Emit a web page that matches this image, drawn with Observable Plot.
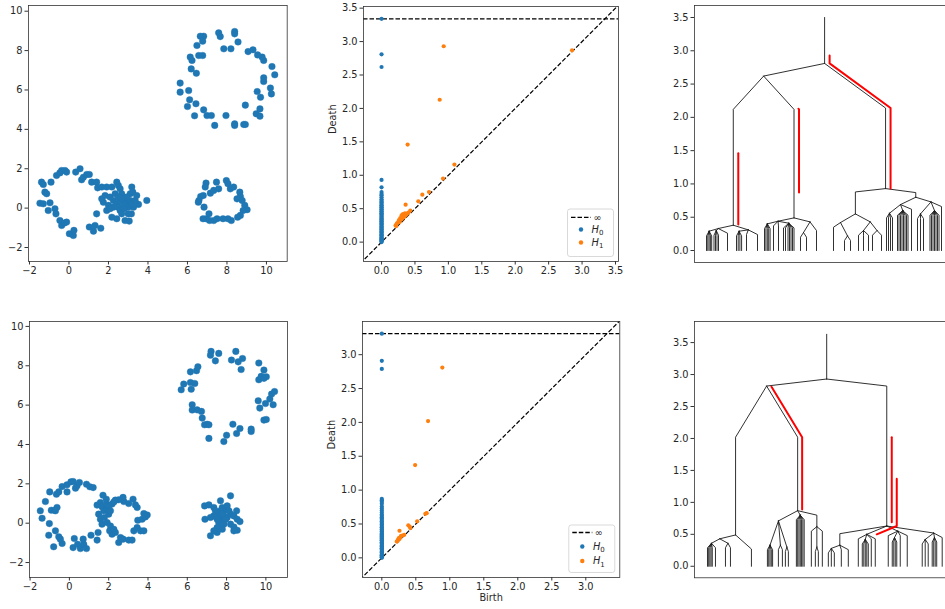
<!DOCTYPE html>
<html><head><meta charset="utf-8">
<script src="https://cdn.jsdelivr.net/npm/d3@7"></script>
<script src="https://cdn.jsdelivr.net/npm/@observablehq/plot@0.6"></script>
<style>
html,body{margin:0;padding:0;background:#fff;}
#fig{position:relative;width:945px;height:609px;overflow:hidden;background:#fff;font-family:"DejaVu Sans",sans-serif;}
</style></head><body><div id="fig"></div>
<script>
// ---------------- DATA ----------------
const blue = "#1f77b4", orange = "#ff7f0e";

// Row 1 point cloud
const cloud1Ring = [[5.63,6.35],[5.63,5.89],[6.06,5.97],[6.11,5.5],[6.0,5.16],[6.43,5.3],[6.36,4.69],[6.82,4.99],[6.99,4.7],[7.21,4.7],[7.38,4.2],[7.95,4.7],[8.39,4.2],[8.39,4.28],[8.85,4.25],[8.93,4.25],[8.93,5.23],[9.48,4.79],[9.67,4.67],[9.67,5.04],[9.53,5.92],[9.7,5.63],[10.2,6.1],[10.25,5.8],[9.86,6.43],[9.86,6.62],[10.42,6.77],[10.28,7.19],[9.86,7.5],[9.78,7.67],[9.55,7.78],[9.32,8.04],[9.07,7.95],[8.56,8.44],[8.39,8.97],[8.39,8.85],[8.2,8.09],[7.84,8.09],[7.66,8.71],[7.58,8.9],[6.82,8.73],[6.65,8.73],[6.77,8.48],[6.48,8.26],[6.57,7.75],[6.77,7.75],[6.14,7.67],[6.23,7.5],[6.19,7.07],[6.45,6.85]];
const cloud1Small = [[6.94,1.27],[6.9,1.07],[7.16,0.76],[7.33,0.9],[7.47,1.32],[7.58,0.98],[7.97,1.4],[8.05,1.24],[8.17,0.98],[8.34,1.07],[8.65,0.81],[8.68,0.59],[8.51,0.47],[8.77,0.39],[8.9,0.14],[9.02,-0.08],[8.82,-0.12],[8.68,-0.37],[8.54,-0.46],[8.22,-0.63],[8.05,-0.54],[7.8,-0.54],[7.5,-0.54],[7.33,-0.63],[7.12,-0.63],[6.95,-0.54],[6.79,-0.54],[7.09,-0.29],[6.84,0.05],[6.58,0.39],[6.55,0.3],[6.67,0.59],[6.8,0.64]];
const cloud1Left = [[-1.47,0.25],[-1.3,0.22],[-1.39,1.32],[-1.3,1.2],[-1.22,0.81],[-1.13,0.73],[-1.05,-0.12],[-0.96,0.27],[-0.91,1.32],[-0.71,-0.03],[-0.66,-0.29],[-0.63,1.66],[-0.46,1.79],[-0.37,1.91],[-0.46,-0.63],[-0.37,-0.88],[-0.24,-0.76],[-0.12,-0.71],[-0.2,1.91],[-0.12,1.83],[0.02,-1.3],[0.22,-1.39],[0.25,-1.13],[0.34,1.83],[0.56,2.0],[0.64,1.44],[0.73,1.57],[0.9,1.71],[1.03,1.71],[1.15,1.32],[1.4,1.32],[1.45,1.03],[1.66,1.07],[1.03,-0.96],[1.24,-1.17],[1.32,-0.88],[1.61,-1.02],[1.4,-0.29],[1.74,0.3],[1.66,0.47],[1.83,0.64],[1.91,1.07],[2.17,1.07],[2.42,1.32],[2.5,1.15],[2.59,0.98],[2.67,0.73],[2.76,0.56],[2.84,0.39],[2.93,0.22],[3.0,0.05],[3.1,0.73],[3.18,1.07],[3.23,0.81],[3.43,0.64],[3.52,0.19],[3.94,0.39],[2.08,0.56],[2.25,0.39],[2.42,0.22],[2.5,0.05],[2.59,-0.12],[2.25,0.05],[2.0,0.14],[1.91,-0.12],[2.17,-0.46],[2.42,-0.54],[2.67,-0.29],[2.84,-0.63],[3.05,-0.66],[3.16,-0.29],[3.27,0.05],[3.1,0.39],[2.93,0.56],[2.76,0.22],[2.59,0.39],[2.34,0.73],[2.79,-0.03],[3.0,-0.29],[3.18,0.22],[3.35,0.39],[2.08,-0.03],[2.67,0.47],[2.5,0.56]];

// Row 2 point cloud
const cloud2Ring = [[5.69,6.78],[5.82,7.07],[6.16,7.15],[6.2,6.81],[6.38,7.1],[6.16,7.69],[6.47,7.75],[6.54,7.95],[6.25,6.02],[6.25,5.75],[6.5,5.76],[6.72,5.68],[6.76,5.34],[6.88,5.0],[7.01,5.03],[7.1,5.0],[7.1,4.31],[7.86,4.15],[8.0,4.47],[8.32,5.03],[8.51,4.56],[8.68,4.81],[9.25,4.78],[9.25,4.66],[9.9,5.24],[10.02,5.27],[9.61,6.22],[9.69,5.85],[9.98,6.08],[10.37,6.02],[10.2,6.31],[10.29,6.56],[10.44,6.69],[9.64,7.29],[9.76,7.46],[9.9,7.36],[10.02,7.44],[9.9,7.78],[9.64,8.14],[8.74,7.81],[8.59,8.2],[8.81,8.37],[8.25,8.29],[8.47,8.73],[7.6,8.63],[7.43,8.25],[7.21,8.73],[7.18,8.54]];
const cloud2Star = [[6.88,0.88],[7.1,0.93],[7.35,0.8],[7.69,1.14],[7.78,0.8],[8.2,1.39],[8.03,0.88],[8.51,0.63],[7.86,0.63],[7.6,0.54],[7.52,0.42],[7.35,0.37],[7.18,0.29],[6.9,0.2],[7.69,0.29],[7.86,0.37],[8.03,0.29],[8.2,0.46],[8.37,0.37],[8.54,0.2],[7.78,0.12],[7.6,0.03],[7.86,-0.05],[7.69,-0.14],[7.52,-0.22],[7.78,-0.31],[8.2,-0.05],[8.37,-0.19],[8.54,-0.36],[8.68,0.08],[7.52,-0.47],[7.35,-0.39],[7.18,-0.64],[8.37,-0.39],[7.95,0.2],[7.69,0.63],[7.43,0.63],[8.12,0.63],[7.52,0.2],[7.78,0.46]];
const cloud2Left = [[-1.48,0.63],[-1.39,0.25],[-1.02,-0.02],[-1.05,-0.61],[-1.22,1.1],[-1.0,1.59],[-0.8,-1.2],[-0.71,-0.39],[-0.54,-0.69],[-0.37,-1.03],[-0.46,-0.81],[-0.92,0.66],[-0.75,0.66],[-0.63,0.8],[-0.71,0.63],[-0.66,1.47],[-0.54,1.59],[-0.37,1.86],[-0.12,1.95],[-0.12,1.59],[0.08,2.1],[0.19,2.12],[0.31,1.78],[0.39,1.9],[0.51,2.07],[0.87,1.98],[1.04,1.85],[1.21,1.81],[0.25,-0.78],[0.19,-1.24],[0.42,-1.07],[0.56,-1.29],[0.7,-0.81],[0.73,-1.07],[0.87,-1.29],[1.1,-0.61],[1.41,-0.86],[1.46,-0.47],[1.41,0.92],[1.71,1.42],[1.58,1.05],[1.66,0.83],[1.49,0.46],[1.58,0.2],[1.66,-0.05],[1.75,0.63],[1.88,0.97],[1.92,0.71],[2.0,0.46],[1.78,0.29],[1.92,0.03],[2.05,-0.39],[2.17,-0.56],[2.09,-0.14],[2.26,-0.31],[2.34,-0.47],[2.51,-0.98],[2.6,-0.73],[2.73,-0.81],[3.02,-0.86],[3.19,-0.86],[3.28,-0.39],[3.45,-0.22],[3.62,-0.39],[3.79,-0.39],[3.48,0.15],[3.7,0.2],[3.87,0.32],[3.96,0.42],[3.79,0.49],[3.45,0.8],[3.36,0.93],[3.24,1.22],[3.02,1.0],[2.77,1.1],[2.73,1.31],[2.51,1.19],[2.34,1.17],[2.17,0.97],[2.26,1.08],[2.0,0.88],[2.09,0.63],[1.88,1.22]];

// Persistence diagrams
const inf1 = 3.34, inf2 = 3.31;
const h0Death1 = [3.34,2.81,2.62,0.93,0.82,0.75,0.72,0.70,0.67,0.64,0.62,0.60,0.59,0.57,0.55,0.54,0.52,0.51,0.49,0.48,0.46,0.45,0.43,0.42,0.41,0.39,0.38,0.36,0.35,0.34,0.32,0.31,0.30,0.28,0.27,0.26,0.24,0.23,0.22,0.20,0.19,0.18,0.16,0.15,0.14,0.12,0.11,0.10,0.09,0.07,0.06,0.05,0.04,0.03,0.02,0.01,0.0];
const h1Birth1 = [0.93,2.85,0.87,0.39,1.09,0.92,0.71,0.61,0.55,0.36,0.43,0.40,0.38,0.36,0.35,0.33,0.32,0.30,0.30,0.28,0.27,0.26,0.25,0.23,0.22,0.21,0.34];
const h1Death1 = [2.93,2.87,2.13,1.46,1.16,0.95,0.75,0.71,0.61,0.56,0.47,0.44,0.42,0.40,0.43,0.37,0.42,0.40,0.34,0.36,0.30,0.33,0.30,0.28,0.24,0.25,0.38];
const h0Death2 = [3.31,2.91,2.79,0.87,0.85,0.83,0.80,0.76,0.73,0.70,0.67,0.64,0.62,0.60,0.58,0.56,0.54,0.52,0.50,0.49,0.47,0.45,0.44,0.42,0.41,0.39,0.38,0.36,0.35,0.33,0.32,0.30,0.29,0.27,0.26,0.25,0.23,0.22,0.21,0.19,0.18,0.17,0.15,0.14,0.13,0.12,0.10,0.09,0.08,0.07,0.05,0.04,0.03,0.02,0.01,0.0];
const h1Birth2 = [0.89,0.68,0.49,0.66,0.64,0.52,0.39,0.41,0.42,0.26,0.22,0.23,0.24,0.25,0.27,0.28,0.30,0.33,0.26];
const h1Death2 = [2.81,2.02,1.37,0.66,0.65,0.54,0.48,0.46,0.44,0.40,0.24,0.25,0.27,0.29,0.30,0.32,0.33,0.34,0.28];

// Merge trees (leaf positions, merge heights h, bend heights k)
const tree1 = {h:2.81, top:3.5, c:[
  {h:2.62, k:2.62, c:[
    {id:"AL", h:0.38, k:2.12, c:[
      {h:0.33, c:[{h:0.29, c:[1,2.3,3.6,4.9,6.2]}, {h:0.30, c:[8.5,10,11.5,13]}, 22]},
      {h:0.31, c:[{h:0.29, c:[31,32.7,34.4,36.1]}, 41, 52]}
    ]},
    {id:"AR", h:0.49, k:2.12, c:[
      {h:0.44, c:[{h:0.40, c:[59,60.4,61.8,63.2,64.6]}, 68, 73, {h:0.41, c:[78,80,82.5,84,85.5,87,88.5]}]},
      {h:0.43, c:[{h:0.27, c:[95,101]}, {x:111, k:0.3}]}
    ]}
  ]},
  {id:"B", h:0.93, k:2.14, c:[
    {h:0.55, k:0.88, c:[
      {h:0.42, c:[128, {h:0.22, c:[139,145]}]},
      {h:0.43, c:[{h:0.30, c:[153,158,163]}, {h:0.30, c:[167,176]}]}
    ]},
    {h:0.80, k:0.87, c:[
      {h:0.69, c:[{h:0.56, c:[181,183,185,187]}, {h:0.60, c:[192,193.5,195,196.5,198,199.5,201,202.5]}, 206]},
      {h:0.73, c:[{h:0.55, c:[212,215,218]}, {h:0.60, c:[224.5,226,227.5,229,230.5,232,233.5]}, 236]}
    ]}
  ]}
]};
const tree2 = {h:2.93, top:3.63, c:[
  {h:2.82, k:2.82, c:[
    {h:0.49, k:2.02, c:[
      {h:0.43, c:[{h:0.36, c:[2,3.2,4.4,5.6,6.8,10]}, {h:0.36, c:[20,25]}]},
      {x:46, k:0.27}
    ]},
    {id:"AR", h:0.87, k:2.02, c:[
      {h:0.71, c:[{h:0.33, c:[62,63.3,64.6,65.9,67.2]}, {h:0.33, c:[73,77]}, {h:0.30, c:[80,83]}]},
      {h:0.80, c:[91,92.3,93.6,94.9,96.2,97.5,98.8]},
      {h:0.62, k:0.80, c:[106, {h:0.30, c:[110,113]}, 117]}
    ]}
  ]},
  {id:"B", h:0.63, k:2.82, c:[
    {h:0.33, k:0.51, c:[{h:0.28, c:[123,126,129]}, 136, 143]},
    {id:"BLR", h:0.50, c:[153, {h:0.42, c:[157,158.5,160,161.5,163]}, 166, 170]},
    {h:0.55, c:[183, {h:0.45, c:[187,188.5,190,191.5]}, 195, 202]},
    {h:0.52, c:[{h:0.42, c:[217,220,223]}, {h:0.45, c:[227,228.5,230,231.5]}, 237]}
  ]}
]};
// H1 features drawn beside the tree: start node, birth, death, side offset
const red1Node = ["AL","AR","B"], red1Birth = [0.39,0.87,0.93], red1Death = [1.46,2.13,2.93], red1Off = [5,5,5];
const red2Node = ["BLR","B","AR"], red2Birth = [0.49,0.69,0.89], red2Death = [1.37,2.02,2.81], red2Off = [10,5,4.5];

const ticksA = [-2,0,2,4,6,8,10];
const ticksHalf = [0,0.5,1,1.5,2,2.5,3,3.5];
const ticksHalf3 = [0,0.5,1,1.5,2,2.5,3];

// ---------------- HELPERS ----------------
const fig = document.getElementById("fig");
const FONT = '"DejaVu Sans", sans-serif';
const M = {l:48, t:8, r:12, b:36};
const INK = "#262626";
const fmtMinus = d => (d < 0 ? "\u2212" : "") + Math.abs(d);
const fmt1 = d3.format(".1f");

function makePlot([L,T,R,B], opts) {
  const p = Plot.plot({
    width: R-L+M.l+M.r, height: B-T+M.t+M.b,
    marginLeft: M.l, marginTop: M.t, marginRight: M.r, marginBottom: M.b,
    style: {fontFamily: FONT, fontSize: "9.8px", color: INK, background: "transparent"},
    ...opts
  });
  p.style.position = "absolute";
  p.style.left = (L-M.l)+"px";
  p.style.top = (T-M.t)+"px";
  fig.appendChild(p);
}
const axX = (ticks, fmt) => Plot.axisX({ticks, tickFormat: fmt, tickSize: 3.5, tickPadding: 2.5, label: null, stroke: "#333"});
const axY = (ticks, fmt) => Plot.axisY({ticks, tickFormat: fmt, tickSize: 3.5, tickPadding: 2.5, label: null, stroke: "#333"});
const frame = () => Plot.frame({stroke: "#333", strokeWidth: 0.8});

const toPts = arrs => arrs.flat().map(([x,y]) => ({x,y}));

function scatterPanel(fr, pts, xd, yd) {
  makePlot(fr, {
    x: {domain: xd}, y: {domain: yd},
    marks: [
      Plot.dot(pts, {x:"x", y:"y", r:3.3, fill: blue, stroke: blue, strokeWidth: 0.4}),
      frame(), axX(ticksA, fmtMinus), axY(ticksA, fmtMinus)
    ]
  });
}

function legendMark(rows) {
  return (index, scales, values, dims) => {
    const R = dims.width - dims.marginRight, B = dims.height - dims.marginBottom;
    const w = 46, h = 47.5, x0 = R - 4.5 - w, y0 = B - 4.5 - h;
    const g = d3.create("svg:g").attr("font-family", FONT).attr("font-size", "9.8px").attr("fill", INK);
    g.append("rect").attr("x", x0).attr("y", y0).attr("width", w).attr("height", h).attr("rx", 2.5)
      .attr("fill", "white").attr("fill-opacity", 0.85).attr("stroke", "#cfcfcf").attr("stroke-width", 0.8);
    g.append("line").attr("x1", x0+3.5).attr("x2", x0+23.5).attr("y1", y0+rows[0]).attr("y2", y0+rows[0])
      .attr("stroke", "black").attr("stroke-width", 1.3).attr("stroke-dasharray", "4.5,2");
    g.append("text").attr("x", x0+30).attr("y", y0+rows[0]).attr("dy", "0.35em").text("\u221e");
    [[blue,"0"],[orange,"1"]].forEach(([c,s],i) => {
      const yy = y0 + rows[i+1];
      g.append("circle").attr("cx", x0+13.5).attr("cy", yy).attr("r", 2.2).attr("fill", c);
      const t = g.append("text").attr("x", x0+30).attr("y", yy).attr("dy", "0.35em");
      t.append("tspan").attr("font-style", "italic").text("H");
      t.append("tspan").attr("font-size", "7px").attr("dy", "2.5").text(s);
    });
    return g.node();
  };
}

function diagramPanel(fr, xd, yd, inf, h0, b1, d1, xt, yt, rows, birthLabel) {
  const lo = Math.min(xd[0], yd[0]) - 0.1, hi = Math.max(xd[1], yd[1]) + 0.1;
  const marks = [
    Plot.link([{a: lo, b: hi}], {x1:"a", y1:"a", x2:"b", y2:"b", stroke:"black", strokeWidth:1.2, strokeDasharray:"4.5,2", clip:true}),
    Plot.ruleY([inf], {stroke:"black", strokeWidth:1.2, strokeDasharray:"4.5,2"}),
    Plot.dot(h0, {x: () => 0, y: d => d, r: 2.1, fill: blue}),
    Plot.dot(b1.map((b,i) => ({b, d: d1[i]})), {x:"b", y:"d", r: 2.1, fill: orange}),
    frame(), axX(xt, fmt1), axY(yt, fmt1),
    Plot.text(["Death"], {frameAnchor:"left", dx:-31, rotate:-90, fontSize: 9.8, fill: INK}),
    legendMark(rows)
  ];
  if (birthLabel) marks.push(Plot.text(["Birth"], {frameAnchor:"bottom", dy:23.5, fontSize: 9.8, fill: INK}));
  makePlot(fr, {x: {domain: xd}, y: {domain: yd}, marks});
}

function layoutTree(root) {
  const edges = [], nodes = {};
  let eid = 0;
  function place(n) {
    if (typeof n === "number" || n.c === undefined) {
      return {x: typeof n === "number" ? n : n.x, h: 0, leaf: true, k: typeof n === "number" ? undefined : n.k};
    }
    const kids = n.c.map(place);
    const me = {x: (kids[0].x + kids[kids.length-1].x)/2, h: n.h, k: n.k, top: n.top, kids};
    kids.forEach(c => c.parent = me);
    if (n.id) nodes[n.id] = me;
    return me;
  }
  const r = place(root);
  (function draw(n) {
    if (!n.kids) return;
    for (const c of n.kids) {
      const knee = c.leaf ? (c.k ?? Math.max(0, n.h - 0.07)) : (c.k ?? c.h);
      c.knee = knee;
      const e = eid++;
      edges.push({e, x:c.x, h:c.h}, {e, x:c.x, h:knee}, {e, x:n.x, h:n.h});
      draw(c);
    }
  })(r);
  edges.push({e:eid, x:r.x, h:r.h}, {e:eid, x:r.x, h:r.top});
  return {edges, nodes};
}

function featurePath(tree, id, lo, hi, off, f) {
  let n = tree.nodes[id];
  const pts = [[n.x, n.h]];
  while (n.parent) { pts.push([n.x, n.knee], [n.parent.x, n.parent.h]); n = n.parent; }
  pts.push([n.x, n.top]);
  const at = (a,b,h) => { const t = (h-a[1])/(b[1]-a[1]); return [a[0]+t*(b[0]-a[0]), h]; };
  const out = [];
  for (let i = 0; i < pts.length-1; i++) {
    const a = pts[i], b = pts[i+1];
    if (b[1] < lo || a[1] > hi) continue;
    if (b[1] === a[1]) { if (a[0] !== b[0]) out.push(a, b); continue; }
    out.push(a[1] < lo ? at(a,b,lo) : a, b[1] > hi ? at(a,b,hi) : b);
  }
  return out.map(([x,h]) => ({f, x: x+off, h}));
}

function treePanel(fr, tree, yd, rn, rb, rd, ro) {
  const T = layoutTree(tree);
  const red = rn.flatMap((id,i) => featurePath(T, id, rb[i], rd[i], ro[i], i));
  makePlot(fr, {
    x: {domain: [-11, 247], axis: null}, y: {domain: yd},
    marks: [
      Plot.line(T.edges, {x:"x", y:"h", z:"e", stroke:"#1a1a1a", strokeWidth:0.9}),
      Plot.line(red, {x:"x", y:"h", z:"f", stroke:"#ff0000", strokeWidth:2}),
      frame(), axY(ticksHalf, fmt1)
    ]
  });
}

// ---------------- PANELS ----------------
scatterPanel([28.3,5,287,261], toPts([cloud1Ring, cloud1Small, cloud1Left]), [-2.05,11.05], [-2.71,10.29]);
diagramPanel([363,6,618,261], [-0.27,3.545], [-0.29,3.525], inf1, h0Death1, h1Birth1, h1Death1, ticksHalf, ticksHalf, [8.3,20.5,33.5], false);
treePanel([694,5,952,262], tree1, [-0.18,3.68], red1Node, red1Birth, red1Death, red1Off);

scatterPanel([29,320.7,287,576.7], toPts([cloud2Ring, cloud2Star, cloud2Left]), [-2.03,11.1], [-2.76,10.25]);
diagramPanel([361.7,320.7,619,576.7], [-0.284,3.50], [-0.29,3.49], inf2, h0Death2, h1Birth2, h1Death2, ticksHalf3, ticksHalf3, [7.5,21.5,36], true);
treePanel([694.3,320.7,952,577], tree2, [-0.18,3.83], red2Node, red2Birth, red2Death, red2Off);
</script></body></html>
